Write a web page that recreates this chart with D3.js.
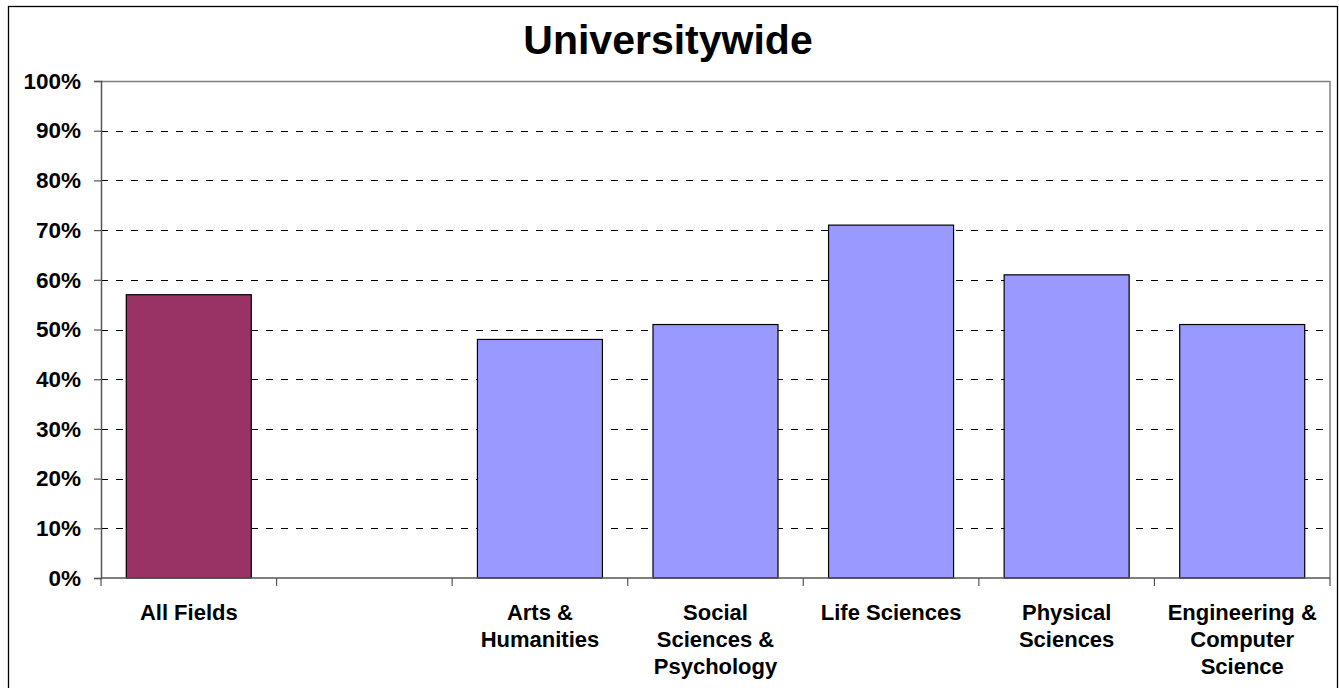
<!DOCTYPE html>
<html><head><meta charset="utf-8">
<script src="https://cdn.jsdelivr.net/npm/d3@7"></script>
<style>
html,body{margin:0;padding:0;background:#fff;}
svg text{font-family:Arial,"Liberation Sans",sans-serif;font-weight:bold;fill:#000;}
</style></head>
<body>
<svg id="c" width="1339" height="688"></svg>
<script>
const categories = ["All Fields", "", "Arts & Humanities", "Social Sciences & Psychology", "Life Sciences", "Physical Sciences", "Engineering & Computer Science"];
const labelLines = [["All Fields"], [], ["Arts &", "Humanities"], ["Social", "Sciences &", "Psychology"], ["Life Sciences"], ["Physical", "Sciences"], ["Engineering &", "Computer", "Science"]];
const values = [57, null, 48, 51, 71, 61, 51];
const barColors = ["#993366", null, "#9999FF", "#9999FF", "#9999FF", "#9999FF", "#9999FF"];
const yTicks = [0, 10, 20, 30, 40, 50, 60, 70, 80, 90, 100];
const title = "Universitywide";

const svg = d3.select("#c");
const L = 101, R = 1330, T = 81, B = 578;

// outer frame
svg.append("rect").attr("x", 8.5).attr("y", 6.5).attr("width", 1329).attr("height", 700)
  .attr("fill", "none").attr("stroke", "#000").attr("stroke-width", 1.3);

const x = d3.scaleBand().domain(categories.map((c, i) => i)).range([L, R]).paddingInner(0).paddingOuter(0);
const y = d3.scaleLinear().domain([0, 100]).range([B, T]);

// gridlines
svg.append("g").selectAll("line").data(yTicks.filter(t => t > 0 && t < 100)).join("line")
  .attr("x1", L).attr("x2", R).attr("y1", d => Math.round(y(d)) + 0.5).attr("y2", d => Math.round(y(d)) + 0.5)
  .attr("stroke", "#000").attr("stroke-width", 1).attr("stroke-dasharray", "7,8");

// plot border top & right
svg.append("line").attr("x1", L).attr("x2", R).attr("y1", y(100) + 0.5).attr("y2", y(100) + 0.5).attr("stroke", "#808080").attr("stroke-width", 1.5);
svg.append("line").attr("x1", R).attr("x2", R).attr("y1", y(100)).attr("y2", B).attr("stroke", "#808080").attr("stroke-width", 1.5);

// bars
const bw = x.bandwidth() * 0.712;
svg.append("g").selectAll("rect").data(values.map((v, i) => ({v, i})).filter(d => d.v != null)).join("rect")
  .attr("x", d => x(d.i) + (x.bandwidth() - bw) / 2)
  .attr("width", bw)
  .attr("y", d => y(d.v))
  .attr("height", d => B - y(d.v))
  .attr("fill", d => barColors[d.i])
  .attr("stroke", "#000").attr("stroke-width", 1.2);

// y axis
const yAxis = d3.axisLeft(y).tickValues(yTicks).tickFormat(d => d + "%").tickSize(7).tickPadding(13);
const gy = svg.append("g").attr("transform", `translate(${L},0)`).call(yAxis);
gy.select(".domain").attr("stroke", "#555").attr("stroke-width", 1.5);
gy.selectAll(".tick line").attr("stroke", "#555").attr("stroke-width", 1.2);
gy.selectAll(".tick text").attr("font-size", 22.5).attr("font-family", "Arial, 'Liberation Sans', sans-serif").attr("font-weight", "bold").attr("fill", "#000");

// x axis line & ticks at boundaries
svg.append("line").attr("x1", L).attr("x2", R).attr("y1", B).attr("y2", B).attr("stroke", "#555").attr("stroke-width", 1.5);
const bounds = categories.map((c, i) => x(i)).concat([R]);
svg.append("g").selectAll("line").data(bounds).join("line")
  .attr("x1", d => d).attr("x2", d => d).attr("y1", B).attr("y2", B + 8)
  .attr("stroke", "#555").attr("stroke-width", 1.2);

// category labels
const lg = svg.append("g");
labelLines.forEach((lines, i) => {
  const t = lg.append("text").attr("text-anchor", "middle").attr("font-size", 22)
    .attr("x", x(i) + x.bandwidth() / 2).attr("y", 620);
  lines.forEach((ln, j) => t.append("tspan").attr("x", x(i) + x.bandwidth() / 2).attr("dy", j === 0 ? 0 : 27).text(ln));
});

// title
svg.append("text").attr("x", 668).attr("y", 54).attr("text-anchor", "middle").attr("font-size", 41).text(title);
</script>
</body></html>
